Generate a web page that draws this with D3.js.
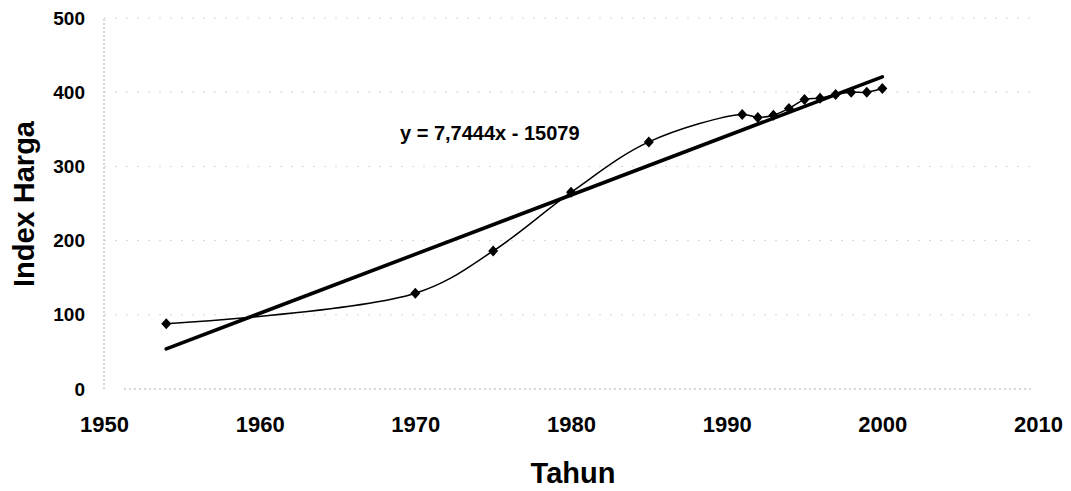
<!DOCTYPE html>
<html>
<head>
<meta charset="utf-8">
<script src="https://cdn.jsdelivr.net/npm/d3@7/dist/d3.min.js"></script>
<style>
  html, body { margin: 0; padding: 0; background: #fff; }
  svg { display: block; }
  text { font-family: "Liberation Sans", Arial, sans-serif; font-weight: bold; fill: #000; }
</style>
</head>
<body>
<svg id="chart" width="1071" height="491"></svg>
<script>
// ---- data ----
const years = [1954, 1970, 1975, 1980, 1985, 1991, 1992, 1993, 1994, 1995, 1996, 1997, 1998, 1999, 2000];
const indexHarga = [88, 129, 186, 265, 333, 370, 366, 369, 378, 390, 392, 397, 400, 400, 405];
const xTicks = [1950, 1960, 1970, 1980, 1990, 2000, 2010];
const yTicks = [0, 100, 200, 300, 400, 500];
const equationLabel = "y = 7,7444x - 15079";
const xTitle = "Tahun";
const yTitle = "Index Harga";

// ---- layout ----
const svg = d3.select("#chart");
const x = d3.scaleLinear().domain([1950, 2010]).range([104, 1038]);
const y = d3.scaleLinear().domain([0, 500]).range([389, 18]);

// gridlines (faint, dotted)
svg.append("g").selectAll("line").data(yTicks.filter(d => d > 0))
  .join("line")
  .attr("x1", x(1950)).attr("x2", x(2010) - 4)
  .attr("y1", d => y(d)).attr("y2", d => y(d))
  .attr("stroke", "#d6d6d6").attr("stroke-width", 1)
  .attr("stroke-dasharray", "2,9");

// x axis baseline
svg.append("line")
  .attr("x1", x(1950) + 20).attr("x2", x(2010) - 4)
  .attr("y1", y(0)).attr("y2", y(0))
  .attr("stroke", "#b0b0b0").attr("stroke-width", 1)
  .attr("stroke-dasharray", "2,3");
// y axis line
svg.append("line")
  .attr("x1", x(1950)).attr("x2", x(1950))
  .attr("y1", y(0)).attr("y2", y(500))
  .attr("stroke", "#b0b0b0").attr("stroke-width", 1)
  .attr("stroke-dasharray", "2,2");

// tick labels via axis generators (no lines)
const yAxis = svg.append("g").attr("transform", `translate(${x(1950)},0)`)
  .call(d3.axisLeft(y).tickValues(yTicks).tickSize(0).tickPadding(19).tickFormat(d3.format("d")));
yAxis.select(".domain").remove();
yAxis.selectAll("text").style("font-size", "19px").style("font-family", "'Liberation Sans', Arial, sans-serif").style("font-weight", "bold").attr("fill", "#000");

const xAxis = svg.append("g").attr("transform", `translate(0,${y(0)})`)
  .call(d3.axisBottom(x).tickValues(xTicks).tickSize(0).tickPadding(27).tickFormat(d3.format("d")));
xAxis.select(".domain").remove();
xAxis.selectAll("text").style("font-size", "22px").style("font-family", "'Liberation Sans', Arial, sans-serif").style("font-weight", "bold").attr("fill", "#000");

// axis titles
svg.append("text").attr("x", 573).attr("y", 483).attr("text-anchor", "middle")
  .style("font-size", "29px").text(xTitle);
svg.append("text").attr("transform", `translate(34,204) rotate(-90)`).attr("text-anchor", "middle")
  .style("font-size", "29px").text(yTitle);

// linear trend computed from the data (least squares)
const mx = d3.mean(years), my = d3.mean(indexHarga);
const sxy = d3.sum(years.map((v, i) => (v - mx) * (indexHarga[i] - my)));
const sxx = d3.sum(years.map(v => (v - mx) * (v - mx)));
const slope = sxy / sxx, intercept = my - slope * mx;
const x0 = d3.min(years), x1 = d3.max(years);
svg.append("line")
  .attr("x1", x(x0)).attr("y1", y(slope * x0 + intercept))
  .attr("x2", x(x1)).attr("y2", y(slope * x1 + intercept))
  .attr("stroke", "#000").attr("stroke-width", 3.6).attr("stroke-linecap", "round");

// smoothed data line
const pts = years.map((v, i) => [v, indexHarga[i]]);
svg.append("path").datum(pts)
  .attr("fill", "none").attr("stroke", "#000").attr("stroke-width", 1.5)
  .attr("d", d3.line().x(d => x(d[0])).y(d => y(d[1])).curve(d3.curveCatmullRom.alpha(0.5)));

// diamond markers
svg.append("g").selectAll("path").data(pts).join("path")
  .attr("transform", d => `translate(${x(d[0])},${y(d[1])})`)
  .attr("d", "M0,-5.5L5,0L0,5.5L-5,0Z")
  .attr("fill", "#000");

// equation label
svg.append("text").attr("x", 400).attr("y", 140)
  .style("font-size", "20px").text(equationLabel);
</script>
</body>
</html>
